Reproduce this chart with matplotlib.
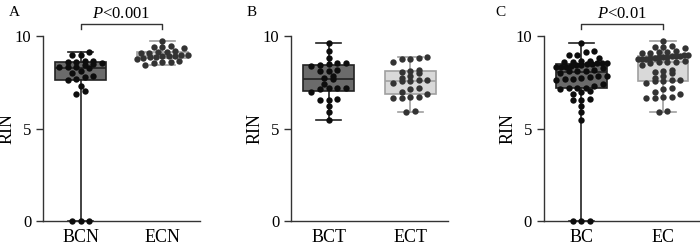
import numpy as np
import matplotlib
matplotlib.use('Agg')
import matplotlib.pyplot as plt

plt.rcParams['font.family'] = ['Liberation Serif', 'DejaVu Serif']
plt.rcParams['mathtext.fontset'] = 'custom'
plt.rcParams['mathtext.rm'] = 'Liberation Serif'
plt.rcParams['mathtext.it'] = 'Liberation Serif:italic'

# RIN values
BCN = [0, 0, 0, 6.85, 7.05, 7.3, 7.6, 7.7, 7.8, 7.85, 8.0, 8.1, 8.25, 8.3, 8.3,
       8.35, 8.45, 8.5, 8.55, 8.6, 8.6, 8.65, 8.65, 8.95, 8.95, 9.15]
ECN = [8.42, 8.55, 8.6, 8.6, 8.65, 8.75, 8.8, 8.85, 8.85, 8.9, 8.9, 8.9, 8.95,
       9.0, 9.1, 9.1, 9.15, 9.15, 9.2, 9.35, 9.4, 9.4, 9.45, 9.73]
BCT = [5.48, 5.9, 6.2, 6.52, 6.55, 6.58, 7.0, 7.15, 7.18, 7.2, 7.2, 7.4, 7.65,
       7.72, 7.84, 8.1, 8.12, 8.15, 8.4, 8.42, 8.5, 8.52, 8.55, 8.81, 9.17, 9.62]
ECT = [5.9, 5.95, 6.65, 6.65, 6.7, 6.7, 6.85, 7.0, 7.15, 7.2, 7.45, 7.55, 7.55,
       7.6, 7.6, 7.75, 7.85, 8.0, 8.05, 8.1, 8.15, 8.6, 8.75, 8.75, 8.8, 8.85]
BC = BCN + BCT
EC = ECN + ECT

panels = [
    ('A', ['BCN', 'ECN'], [BCN, ECN], '<0.001'),
    ('B', ['BCT', 'ECT'], [BCT, ECT], None),
    ('C', ['BC', 'EC'], [BC, EC], '<0.01'),
]
lefts = [0.0614, 0.4157, 0.777]
letter_x = [0.012, 0.352, 0.708]

box_fill = ['#6b6b6b', '#d9d9d9']
box_edge = ['#222222', '#a0a0a0']
dot_col = ['#0d0d0d', '#333333']


def swarm(vals, center, dy=0.27, dx=0.105, maxhalf=0.31):
    # prism-like layout: group close values into rows, spread each row sideways
    v = np.sort(np.asarray(vals, dtype=float))
    xs = np.zeros(len(v))
    i = 0
    while i < len(v):
        j = i
        while j < len(v) and v[j] - v[i] < dy:
            j += 1
        n = j - i
        off = (np.arange(n) - (n - 1) / 2) * dx
        if n > 1 and off[-1] > maxhalf:
            off = off * maxhalf / off[-1]
        xs[i:j] = center + off
        i = j
    return xs, v


fig = plt.figure(figsize=(7, 2.46), dpi=100)

for i, (letter, cats, data, ptxt) in enumerate(panels):
    ax = fig.add_axes([lefts[i], 0.1016, 0.224, 0.752])
    bp = ax.boxplot(data, positions=[0, 1], widths=0.62, whis=(0, 100),
                    showfliers=False, patch_artist=True, zorder=1)
    for j in range(2):
        bp['boxes'][j].set(facecolor=box_fill[j], edgecolor=box_edge[j], linewidth=1.2)
        bp['medians'][j].set(color=box_edge[j], linewidth=1.2)
        for k in (2 * j, 2 * j + 1):
            bp['whiskers'][k].set(color=box_edge[j], linewidth=1.2)
            bp['caps'][k].set(color=box_edge[j], linewidth=1.2)
        x, y = swarm(data[j], j)
        ax.scatter(x, y, s=21, color=dot_col[j], lw=0, zorder=3, clip_on=False)
    ax.set_xlim(-0.46, 1.46)
    ax.set_ylim(0, 10)
    ax.set_yticks([0, 5, 10])
    ax.set_xticks([0, 1])
    ax.set_xticklabels(cats)
    ax.set_ylabel('RIN', fontsize=13)
    ax.yaxis.set_label_coords(-0.175, 0.5)
    ax.tick_params(axis='x', length=0, labelsize=13, pad=6)
    ax.tick_params(axis='y', length=5, labelsize=12, width=1, color='#333333')
    for s in ['top', 'right']:
        ax.spines[s].set_visible(False)
    for s in ['left', 'bottom']:
        ax.spines[s].set_color('#333333')
        ax.spines[s].set_linewidth(1)
    if ptxt:
        ax.plot([0, 0, 1, 1], [10.36, 10.65, 10.65, 10.36], color='#333333',
                lw=1, clip_on=False)
        ax.text(0.5, 10.75, r'$\mathit{P}$' + ptxt, ha='center', va='bottom',
                fontsize=12)
    fig.text(letter_x[i], 0.975, letter, fontsize=11, va='top')

fig.savefig('out.png', dpi=100)
